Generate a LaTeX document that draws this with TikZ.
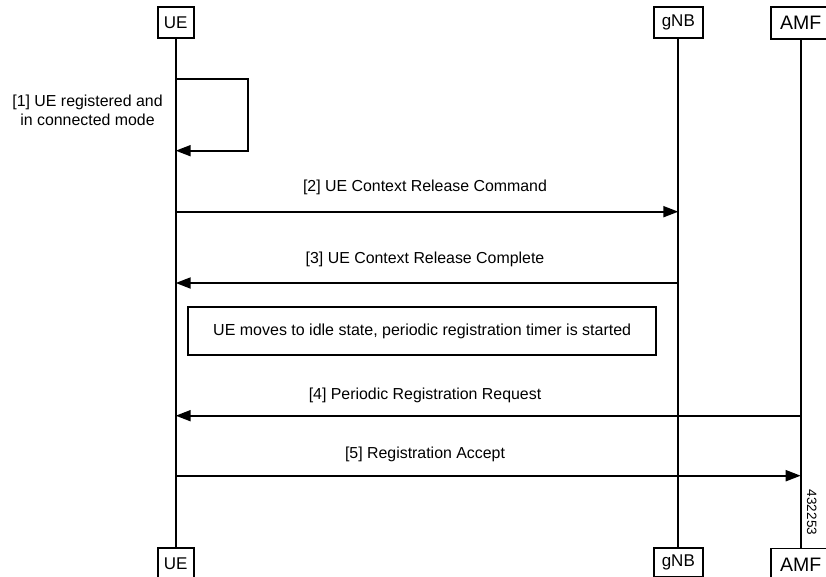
\documentclass[tikz,border=0pt]{standalone}
\usepackage{fontspec}
\setmainfont{Liberation Sans}
\usetikzlibrary{arrows.meta}
\tikzset{
  ent/.style={draw, line width=1.9pt, inner sep=0pt, minimum height=31pt, font=\fontsize{17}{17}\selectfont, text=black},
  life/.style={line width=1.9pt},
  msg/.style={line width=1.9pt, -{Triangle[length=15pt,width=11pt]}},
  lbl/.style={font=\fontsize{15.9}{19}\selectfont, align=center, inner sep=0pt},
  note/.style={draw, line width=1.9pt, font=\fontsize{16}{19}\selectfont, inner sep=0pt}
}
\begin{document}
\begin{tikzpicture}[x=1pt,y=-1pt]
\useasboundingbox (0,0) rectangle (826,577);
% entities
\node[ent, minimum width=36pt] (ueT) at (175.7,22.5) {UE};
\node[ent, minimum width=49pt] (gnbT) at (678.3,22.5) {gNB};
\node[ent, minimum width=60pt, minimum height=32pt, font=\fontsize{19.5}{19.5}\selectfont] (amfT) at (800.7,23) {AMF};
\node[ent, minimum width=36pt, minimum height=32pt] (ueB) at (175.7,564) {UE};
\node[ent, minimum width=49pt, minimum height=29pt] (gnbB) at (678.3,562.5) {gNB};
\node[ent, minimum width=60pt, minimum height=32pt, font=\fontsize{19.5}{19.5}\selectfont] (amfB) at (800.7,564.5) {AMF};
% lifelines
\draw[life] (ueT.south) -- (ueB.north);
\draw[life] (gnbT.south) -- (gnbB.north);
\draw[life] (amfT.south) -- (amfB.north);
% lifeline anchor coordinates
\coordinate (u1) at (175.7,79.3);
\coordinate (u1b) at (175.7,150.7);
\coordinate (u2) at (175.7,211.7);
\coordinate (g2) at (678.3,211.7);
\coordinate (g3) at (678.3,283);
\coordinate (u3) at (175.7,283);
\coordinate (a4) at (800.7,415.7);
\coordinate (u4) at (175.7,415.7);
\coordinate (u5) at (175.7,475.7);
\coordinate (a5) at (800.7,475.7);
% [1] self message
\draw[msg] (u1) -- (248.3,79.3) -- (248.3,150.7) -- (u1b);
\node[lbl] (l1) at (87.5,110) {[1] UE registered and\\in connected mode};
% [2]
\draw[msg] (u2) -- (g2);
\node[lbl] (l2) at (425,187) {[2] UE Context Release Command};
% [3]
\draw[msg] (g3) -- (u3);
\node[lbl] (l3) at (425,259) {[3] UE Context Release Complete};
% note
\node[note, minimum width=467.7pt, minimum height=47.7pt] (n1) at (422.2,331.2) {UE moves to idle state, periodic registration timer is started};
% [4]
\draw[msg] (a4) -- (u4);
\node[lbl] (l4) at (425,395) {[4] Periodic Registration Request};
% [5]
\draw[msg] (u5) -- (a5);
\node[lbl] (l5) at (425,454) {[5] Registration Accept};
% figure id
\node[font=\fontsize{13.5}{13.5}\selectfont, rotate=-90, inner sep=0pt] (fid) at (811.7,512.5) {432253};
\end{tikzpicture}
\end{document}
